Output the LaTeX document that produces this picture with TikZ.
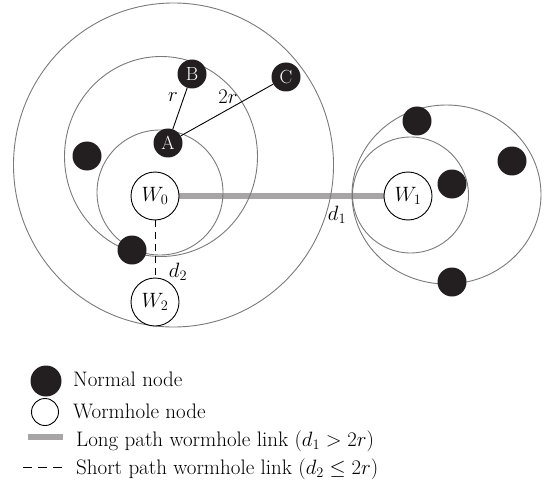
\documentclass[tikz,border=0pt]{standalone}
\definecolor{ringgray}{HTML}{7A7A7A}
\definecolor{nodeblack}{HTML}{231F20}
\definecolor{linkgray}{HTML}{A7A5A6}
\pgfdeclarelayer{bg}
\pgfsetlayers{bg,main}
\tikzset{
  ring/.style={draw=ringgray, line width=0.9pt},
  normal/.style={circle, fill=nodeblack, minimum size=29pt, inner sep=0pt, text=white, font=\fontsize{19}{20}\selectfont},
  worm/.style={circle, draw=black, fill=white, minimum size=48pt, inner sep=0pt, line width=0.9pt, font=\fontsize{20}{22}\selectfont},
  longlink/.style={draw=linkgray, line width=6pt},
  shortlink/.style={draw=black, line width=1pt, dash pattern=on 7pt off 5pt},
  plainlink/.style={draw=black, line width=0.9pt},
  lbl/.style={inner sep=0pt, font=\fontsize{20}{22}\selectfont},
  legtext/.style={inner sep=0pt, anchor=base west, font=\fontsize{21}{23}\selectfont}
}
\begin{document}
\begin{tikzpicture}[x=1pt,y=-1pt]
\useasboundingbox (0,0) rectangle (545,481);
% nodes
\node[worm] (W0) at (155,196) {$W_0$};
\node[worm] (W1) at (408,196) {$W_1$};
\node[worm] (W2) at (155,302) {$W_2$};
\node[normal] (A) at (168,143) {A};
\node[normal] (B) at (192,74) {B};
\node[normal] (C) at (286,77) {C};
\node[normal] (N1) at (87,156) {};
\node[normal] (N2) at (132,250) {};
\node[normal] (N3) at (417,121) {};
\node[normal] (N4) at (512,161) {};
\node[normal] (N5) at (452,184) {};
\node[normal] (N6) at (452,282) {};
% background: link and rings
\begin{pgfonlayer}{bg}
\draw[longlink] (W0) -- (W1);
\draw[ring] (173.5,165) ellipse [x radius=160, y radius=162];
\draw[ring] (161,156.5) ellipse [x radius=96.5, y radius=100];
\draw[ring] (160,192.5) ellipse [x radius=63, y radius=62.5];
\draw[ring] (446.5,194.5) ellipse [x radius=94.5, y radius=89.5];
\draw[ring] (410.5,195) circle [radius=58];
\end{pgfonlayer}
% links
\draw[plainlink] (A) -- (B);
\draw[plainlink] (A) -- (C);
\draw[shortlink] (W0) -- (W2);
% labels
\node[lbl] (lr) at (173,97) {$r$};
\node[lbl] (l2r) at (228,97) {$2r$};
\node[lbl] (ld1) at (337,215) {$d_1$};
\node[lbl] (ld2) at (178,272) {$d_2$};
% legend
\node[normal, minimum size=31pt] (legN) at (46,381) {};
\node[worm, minimum size=27pt] (legW) at (45,412) {};
\coordinate (lb1) at (28,437);
\coordinate (lb2) at (63,437);
\draw[longlink] (lb1) -- (lb2);
\coordinate (ls1) at (23,467);
\coordinate (ls2) at (62,467);
\draw[draw=black, line width=1pt, dash pattern=on 9pt off 6pt] (ls1) -- (ls2);
\node[legtext] (t1) at (73,386) {Normal node};
\node[legtext] (t2) at (73,418) {Wormhole node};
\node[legtext] (t3) at (76,446) {Long path wormhole link ($d_1 > 2r$)};
\node[legtext] (t4) at (76,474) {Short path wormhole link ($d_2 \leq 2r$)};
\end{tikzpicture}
\end{document}
